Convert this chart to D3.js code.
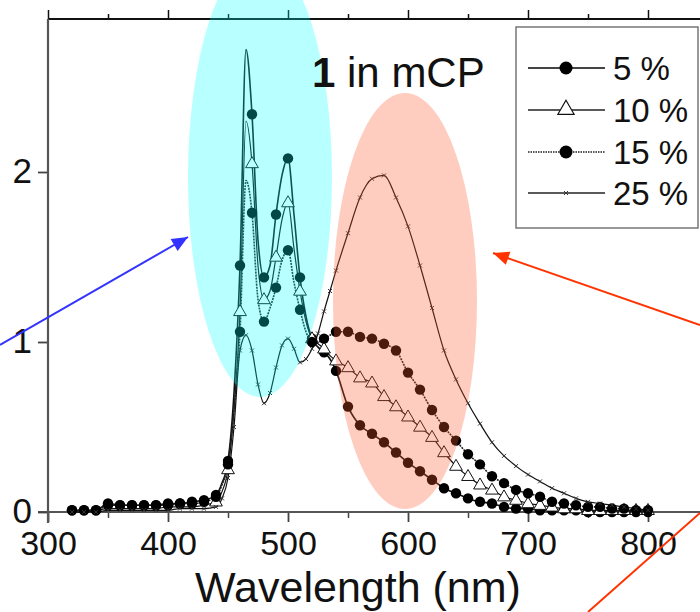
<!DOCTYPE html>
<html>
<head>
<meta charset="utf-8">
<script src="https://cdn.jsdelivr.net/npm/d3@7"></script>
<style>
  html, body { margin: 0; padding: 0; background: #fff; }
  svg { display: block; }
  text { font-family: "Liberation Sans", Arial, sans-serif; }
</style>
</head>
<body>
<svg id="chart" width="700" height="612"></svg>
<script>
// ---------------- data ----------------
const wavelengths = [320,330,340,350,360,370,380,390,400,410,420,430,440,
  445,450,455,460,465,470,475,480,485,490,495,500,505,510,515,520,525,530,535,540,
  550,560,570,580,590,600,610,620,630,640,650,660,670,680,690,700,710,720,730,740,750,760,770,780,790,800];

const seriesLabels = ["5 %", "10 %", "15 %", "25 %"];

const pct5 = [0.01,0.01,0.01,0.05,0.04,0.04,0.04,0.04,0.05,0.05,0.06,0.07,0.10,
  0.17,0.30,0.70,1.45,2.72,2.34,1.60,1.38,1.45,1.75,1.98,2.08,1.75,1.38,1.15,1.02,0.97,0.94,0.90,0.83,
  0.62,0.51,0.46,0.41,0.35,0.29,0.24,0.19,0.14,0.11,0.08,0.06,0.05,0.03,0.02,0.02,0.01,0.01,0.01,0.01,0.00,0.00,0.00,0.00,0.00,0.00];

const pct10 = [0.00,0.00,0.01,0.02,0.02,0.02,0.02,0.02,0.03,0.03,0.03,0.04,0.06,
  0.12,0.25,0.60,1.18,2.30,2.05,1.45,1.25,1.30,1.50,1.72,1.82,1.55,1.30,1.12,1.02,0.99,0.96,0.92,0.89,
  0.85,0.79,0.76,0.68,0.62,0.56,0.50,0.44,0.35,0.27,0.21,0.16,0.13,0.09,0.07,0.05,0.04,0.03,0.02,0.02,0.01,0.01,0.01,0.01,0.01,0.01];

const pct15 = [0.01,0.01,0.01,0.04,0.04,0.04,0.04,0.04,0.04,0.05,0.05,0.06,0.09,
  0.16,0.28,0.60,1.06,1.95,1.76,1.25,1.12,1.20,1.32,1.48,1.54,1.35,1.19,1.06,1.00,1.00,1.02,1.04,1.06,
  1.06,1.03,1.02,0.99,0.95,0.82,0.72,0.60,0.50,0.42,0.34,0.28,0.21,0.17,0.13,0.11,0.09,0.06,0.05,0.04,0.03,0.03,0.02,0.02,0.01,0.01];

const pct25 = [0.00,0.00,0.00,0.01,0.01,0.01,0.01,0.01,0.01,0.02,0.02,0.02,0.03,
  0.08,0.20,0.50,0.95,1.04,0.95,0.75,0.64,0.70,0.85,0.98,1.02,0.96,0.88,0.90,0.96,1.05,1.18,1.30,1.42,
  1.64,1.85,1.96,1.98,1.85,1.68,1.45,1.20,0.95,0.78,0.64,0.52,0.41,0.33,0.27,0.22,0.18,0.14,0.11,0.08,0.06,0.05,0.04,0.03,0.02,0.01];

const xMajorTicks = [300,400,500,600,700,800];
const xMinorTicks = [350,450,550,650,750,850];
const yTicks = [0,1,2];
const xTitle = "Wavelength (nm)";

// ---------------- layout ----------------
const svg = d3.select("#chart");
const x = d3.scaleLinear().domain([300, 850]).range([48, 708]);
const y = d3.scaleLinear().domain([0, 2.9]).range([512, 19]);

const series = [
  { label: seriesLabels[0], values: pct5,  marker: "circle",   stroke: "#111", width: 1.6, dash: null },
  { label: seriesLabels[1], values: pct10, marker: "triangle", stroke: "#111", width: 1.2, dash: null },
  { label: seriesLabels[2], values: pct15, marker: "circle",   stroke: "#222", width: 1.6, dash: "2,1" },
  { label: seriesLabels[3], values: pct25, marker: "cross",    stroke: "#111", width: 1.2, dash: null }
];

// ---------------- axes ----------------
const axG = svg.append("g");
// top axis
axG.append("g").attr("transform", "translate(0,19)")
  .call(d3.axisTop(x).tickValues(xMajorTicks).tickSize(9).tickFormat(""))
  .call(g => g.select(".domain").remove())
  .call(g => g.selectAll(".tick line").attr("stroke", "#111").attr("stroke-width", 1.5));
axG.append("g").attr("transform", "translate(0,19)")
  .call(d3.axisTop(x).tickValues(xMinorTicks).tickSize(5).tickFormat(""))
  .call(g => g.select(".domain").remove())
  .call(g => g.selectAll(".tick line").attr("stroke", "#111").attr("stroke-width", 1.5));
axG.append("line").attr("x1", 48).attr("x2", 700).attr("y1", 19).attr("y2", 19)
  .attr("stroke", "#111").attr("stroke-width", 2);

// bottom axis
const bottom = axG.append("g").attr("transform", "translate(0,512)")
  .call(d3.axisBottom(x).tickValues(xMajorTicks).tickSize(10).tickPadding(6).tickFormat(d3.format("d")));
bottom.select(".domain").remove();
bottom.selectAll(".tick line").attr("stroke", "#444").attr("stroke-width", 1.8);
bottom.selectAll(".tick text").attr("font-size", 34).attr("fill", "#111")
  .attr("dy", null).attr("y", 43);
axG.append("g").attr("transform", "translate(0,512)")
  .call(d3.axisBottom(x).tickValues(xMinorTicks).tickSize(6).tickFormat(""))
  .call(g => g.select(".domain").remove())
  .call(g => g.selectAll(".tick line").attr("stroke", "#444").attr("stroke-width", 1.5));
axG.append("line").attr("x1", 38).attr("x2", 700).attr("y1", 512).attr("y2", 512)
  .attr("stroke", "#555").attr("stroke-width", 2.2);

// left axis
const left = axG.append("g").attr("transform", "translate(48,0)")
  .call(d3.axisLeft(y).tickValues(yTicks).tickSize(10).tickPadding(6).tickFormat(d3.format("d")));
left.select(".domain").remove();
left.selectAll(".tick line").attr("stroke", "#444").attr("stroke-width", 1.8);
left.selectAll(".tick text").attr("font-size", 35).attr("fill", "#111").attr("dy", "0.3em");
axG.append("line").attr("x1", 48).attr("x2", 48).attr("y1", 19).attr("y2", 523)
  .attr("stroke", "#555").attr("stroke-width", 2.2);

// axis title
svg.append("text").attr("x", 358).attr("y", 602).attr("text-anchor", "middle")
  .attr("font-size", 43).attr("fill", "#111").text(xTitle);

// ---------------- curves ----------------
const line = d3.line().x(d => x(d.w)).y(d => y(d.v)).curve(d3.curveMonotoneX);
const plotG = svg.append("g");

const triPath = (s) => `M0,${-s*0.62}L${s*0.58},${s*0.38}L${-s*0.58},${s*0.38}Z`;

series.forEach(s => {
  const pts = wavelengths.map((w, i) => ({ w, v: s.values[i] }));
  plotG.append("path").datum(pts).attr("d", line)
    .attr("fill", "none").attr("stroke", s.stroke).attr("stroke-width", s.width)
    .attr("stroke-dasharray", s.dash);
});

series.forEach(s => {
  const pts = wavelengths.map((w, i) => ({ w, v: s.values[i] }));
  const g = plotG.append("g");
  if (s.marker === "circle") {
    g.selectAll("circle").data(pts.filter(d => d.w % 10 === 0)).join("circle")
      .attr("cx", d => x(d.w)).attr("cy", d => y(d.v)).attr("r", 5.2).attr("fill", "#000");
  } else if (s.marker === "triangle") {
    g.selectAll("path").data(pts.filter(d => d.w % 10 === 0 && d.w >= 440)).join("path")
      .attr("transform", d => `translate(${x(d.w)},${y(d.v)})`)
      .attr("d", triPath(11)).attr("fill", "#fff").attr("stroke", "#111").attr("stroke-width", 1);
  } else {
    g.selectAll("path").data(pts).join("path")
      .attr("transform", d => `translate(${x(d.w)},${y(d.v)})`)
      .attr("d", "M-2,-2L2,2M-2,2L2,-2").attr("stroke", "#333").attr("stroke-width", 1);
  }
});

// ---------------- translucent highlight ellipses ----------------
svg.append("ellipse").attr("cx", 260).attr("cy", 177).attr("rx", 72).attr("ry", 220)
  .attr("fill", "rgb(0,255,255)").attr("fill-opacity", 0.28);
svg.append("ellipse").attr("cx", 405).attr("cy", 301).attr("rx", 72).attr("ry", 208)
  .attr("fill", "rgb(255,85,45)").attr("fill-opacity", 0.3);

// ---------------- annotation text ----------------
const ann = svg.append("text").attr("x", 312).attr("y", 87).attr("font-size", 42).attr("fill", "#111");
ann.append("tspan").attr("font-weight", "bold").text("1");
ann.append("tspan").text(" in mCP");

// ---------------- legend ----------------
const lg = svg.append("g");
lg.append("rect").attr("x", 516).attr("y", 27).attr("width", 182).attr("height", 201)
  .attr("fill", "#fff").attr("stroke", "#777").attr("stroke-width", 1.5);
const rowY = [68, 110, 152, 193];
series.forEach((s, i) => {
  const yy = rowY[i];
  lg.append("line").attr("x1", 528).attr("x2", 605).attr("y1", yy).attr("y2", yy)
    .attr("stroke", i === 0 ? "#444" : (i === 2 ? "#555" : "#222"))
    .attr("stroke-width", i === 0 || i === 2 ? 2 : 1.4)
    .attr("stroke-dasharray", i === 2 ? "1.5,1" : null);
  if (s.marker === "circle") {
    lg.append("circle").attr("cx", 566).attr("cy", yy).attr("r", 6.5).attr("fill", "#000");
  } else if (s.marker === "triangle") {
    lg.append("path").attr("transform", `translate(566,${yy - 1})`).attr("d", triPath(14))
      .attr("fill", "#fff").attr("stroke", "#111").attr("stroke-width", 1.2);
  } else {
    lg.append("path").attr("transform", `translate(566,${yy})`)
      .attr("d", "M-2,-2L2,2M-2,2L2,-2").attr("stroke", "#333").attr("stroke-width", 1);
  }
  lg.append("text").attr("x", 613).attr("y", yy + 12).attr("font-size", 33).attr("fill", "#111").text(s.label);
});

// ---------------- arrows ----------------
function arrow(x1, y1, x2, y2, color, head) {
  svg.append("line").attr("x1", x1).attr("y1", y1).attr("x2", x2).attr("y2", y2)
    .attr("stroke", color).attr("stroke-width", 2);
  if (head) {
    const a = Math.atan2(y2 - y1, x2 - x1), L = 16, W = 7;
    const bx = x2 - L * Math.cos(a), by = y2 - L * Math.sin(a);
    const px = -Math.sin(a) * W, py = Math.cos(a) * W;
    svg.append("path").attr("d", `M${x2},${y2}L${bx + px},${by + py}L${bx - px},${by - py}Z`)
      .attr("fill", color);
  }
}
arrow(0, 345, 188, 237, "#3333ff", true);
arrow(700, 325, 493, 253, "#ff3300", true);
arrow(700, 513, 588, 612, "#ff3300", false);
</script>
</body>
</html>
